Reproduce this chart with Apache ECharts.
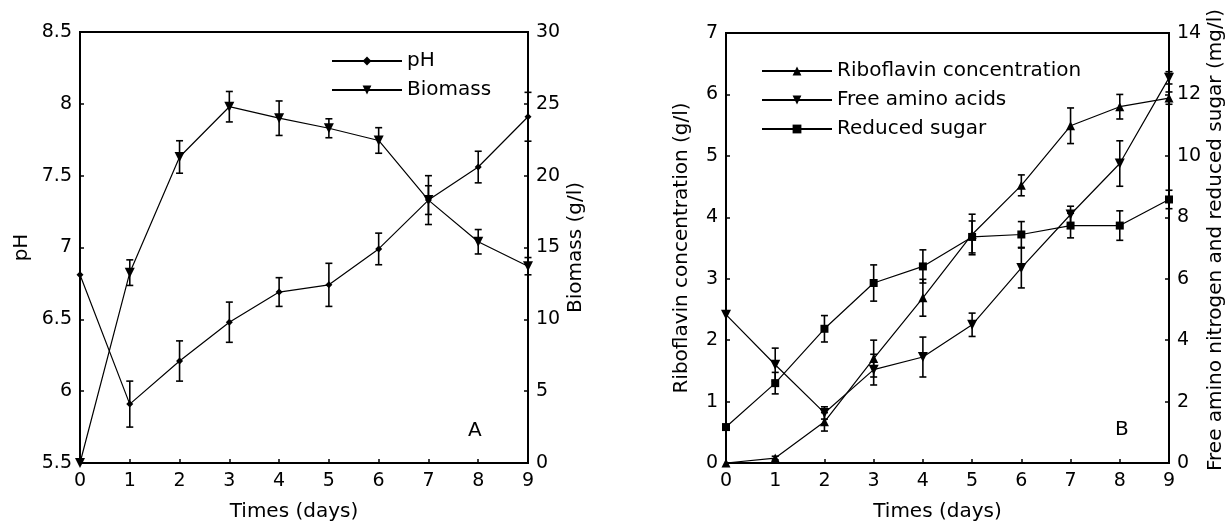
<!DOCTYPE html>
<html>
<head>
<meta charset="utf-8">
<script src="https://cdn.jsdelivr.net/npm/echarts@6/dist/echarts.min.js"></script>
<style>
html,body{margin:0;padding:0;background:#fff;}
#c{width:1230px;height:522px;}
</style>
</head>
<body>
<div id="c"></div>
<script>
// ---- data ----
const days = [0, 1, 2, 3, 4, 5, 6, 7, 8, 9];

// Panel A
const pH = [6.81, 5.91, 6.21, 6.48, 6.69, 6.74, 6.99, 7.33, 7.56, 7.91];
const pHErr = [0, 0.16, 0.14, 0.14, 0.10, 0.15, 0.11, 0.10, 0.11, 0.17];
const biomass = [0, 13.25, 21.3, 24.8, 24.0, 23.3, 22.45, 18.3, 15.4, 13.7];
const biomassErr = [0, 0.89, 1.13, 1.06, 1.2, 0.66, 0.89, 1.7, 0.85, 0.6];

// Panel B
const riboflavin = [0, 0.08, 0.67, 1.7, 2.69, 3.72, 4.52, 5.49, 5.8, 5.94];
const riboflavinErr = [0, 0.03, 0.15, 0.3, 0.3, 0.33, 0.17, 0.29, 0.2, 0.1];
const freeAmino = [4.83, 3.2, 1.63, 3.04, 3.45, 4.5, 6.35, 8.09, 9.75, 12.54];
const freeAminoErr = [0, 0.54, 0.2, 0.5, 0.65, 0.38, 0.65, 0.27, 0.74, 0.2];
const sugar = [1.17, 2.6, 4.37, 5.86, 6.4, 7.36, 7.44, 7.73, 7.73, 8.58];
const sugarErr = [0, 0.35, 0.43, 0.59, 0.54, 0.52, 0.42, 0.4, 0.48, 0.3];

const FONT = 'DejaVu Sans';
const BLACK = '#000';

function pairs(ys) { return days.map((d, i) => [d, ys[i]]); }
function triples(ys, es) { return days.map((d, i) => [d, ys[i], es[i]]); }

function errRender(params, api) {
  const x = api.value(0), y = api.value(1), e = api.value(2);
  if (!e) return null;
  const t = api.coord([x, y + e]);
  const b = api.coord([x, y - e]);
  const w = 3.5;
  const st = { stroke: BLACK, lineWidth: 1.6 };
  return {
    type: 'group',
    children: [
      { type: 'line', shape: { x1: t[0], y1: t[1], x2: b[0], y2: b[1] }, style: st },
      { type: 'line', shape: { x1: t[0] - w, y1: t[1], x2: t[0] + w, y2: t[1] }, style: st },
      { type: 'line', shape: { x1: b[0] - w, y1: b[1], x2: b[0] + w, y2: b[1] }, style: st }
    ]
  };
}

function errSeries(name, ys, es, xi, yi) {
  return {
    type: 'custom', name: name + ' err', xAxisIndex: xi, yAxisIndex: yi,
    renderItem: errRender, data: triples(ys, es), encode: { x: 0, y: 1 },
    silent: true, z: 3
  };
}

function lineSeries(name, ys, xi, yi, symbol, size, rot) {
  return {
    type: 'line', name: name, xAxisIndex: xi, yAxisIndex: yi,
    data: pairs(ys), symbol: symbol, symbolSize: size, symbolRotate: rot || 0,
    showAllSymbol: true,
    lineStyle: { color: BLACK, width: 1.2 },
    itemStyle: { color: BLACK, borderColor: BLACK, borderWidth: 0 },
    animation: false, z: 4
  };
}

function xAx(gi) {
  return {
    type: 'value', gridIndex: gi, min: 0, max: 9, interval: 1,
    axisLine: { lineStyle: { color: BLACK, width: 2 } },
    axisTick: { inside: true, length: 4, lineStyle: { color: BLACK, width: 1.5 } },
    axisLabel: { color: BLACK, fontSize: 19, fontFamily: FONT, margin: 9 },
    splitLine: { show: false },
    name: 'Times (days)', nameLocation: 'middle', nameGap: 39,
    nameTextStyle: { color: BLACK, fontSize: 20, fontFamily: FONT, padding: [0, 20, 0, 0] }
  };
}

function yAx(gi, pos, min, max, interval, name, gap, pad) {
  return {
    type: 'value', gridIndex: gi, position: pos, min: min, max: max, interval: interval,
    axisLine: { show: true, onZero: false, lineStyle: { color: BLACK, width: 2 } },
    axisTick: { show: true, inside: true, length: 4, lineStyle: { color: BLACK, width: 1.5 } },
    axisLabel: { color: BLACK, fontSize: 19, fontFamily: FONT, margin: 8 },
    splitLine: { show: false },
    name: name, nameLocation: 'middle', nameGap: gap, nameRotate: 90,
    nameTextStyle: { color: BLACK, fontSize: 20, fontFamily: FONT, padding: pad || 0 }
  };
}

const legendText = { color: BLACK, fontSize: 20, fontFamily: FONT };

const option = {
  backgroundColor: '#fff',
  animation: false,
  grid: [
    { left: 80, top: 32, right: 702, bottom: 59, show: true, borderColor: BLACK, borderWidth: 2, backgroundColor: 'transparent', outerBoundsMode: 'none', containLabel: false },
    { left: 726, top: 33, right: 61, bottom: 59, show: true, borderColor: BLACK, borderWidth: 2, backgroundColor: 'transparent', outerBoundsMode: 'none', containLabel: false }
  ],
  xAxis: [xAx(0), xAx(1)],
  yAxis: [
    yAx(0, 'left', 5.5, 8.5, 0.5, 'pH', 48),
    yAx(0, 'right', 0, 30, 5, 'Biomass (g/l)', 38),
    yAx(1, 'left', 0, 7, 1, 'Riboflavin concentration (g/l)', 34),
    yAx(1, 'right', 0, 14, 2, 'Free amino nitrogen and reduced sugar (mg/l)', 37, [0, 0, 0, 16])
  ],
  legend: [
    {
      data: ['pH', 'Biomass'], orient: 'vertical', left: 326, top: 46,
      itemWidth: 70, itemHeight: 11, itemGap: 9, textStyle: legendText, selectedMode: false
    },
    {
      data: ['Riboflavin concentration', 'Free amino acids', 'Reduced sugar'], orient: 'vertical', left: 756, top: 56,
      itemWidth: 70, itemHeight: 11, itemGap: 9, textStyle: legendText, selectedMode: false
    }
  ],
  graphic: [
    { type: 'text', left: 468, top: 421, style: { text: 'A', font: '20px "DejaVu Sans"', fill: BLACK } },
    { type: 'text', left: 1115, top: 420, style: { text: 'B', font: '20px "DejaVu Sans"', fill: BLACK } }
  ],
  series: [
    errSeries('pH', pH, pHErr, 0, 0),
    errSeries('Biomass', biomass, biomassErr, 0, 1),
    lineSeries('pH', pH, 0, 0, 'diamond', 7),
    lineSeries('Biomass', biomass, 0, 1, 'triangle', 10, 180),
    errSeries('Riboflavin', riboflavin, riboflavinErr, 1, 2),
    errSeries('Free amino', freeAmino, freeAminoErr, 1, 3),
    errSeries('Sugar', sugar, sugarErr, 1, 3),
    lineSeries('Riboflavin concentration', riboflavin, 1, 2, 'triangle', 9),
    lineSeries('Free amino acids', freeAmino, 1, 3, 'triangle', 10, 180),
    lineSeries('Reduced sugar', sugar, 1, 3, 'rect', 8)
  ]
};

const chart = echarts.init(document.getElementById('c'), null, { renderer: 'canvas' });
chart.setOption(option);
</script>
</body>
</html>
